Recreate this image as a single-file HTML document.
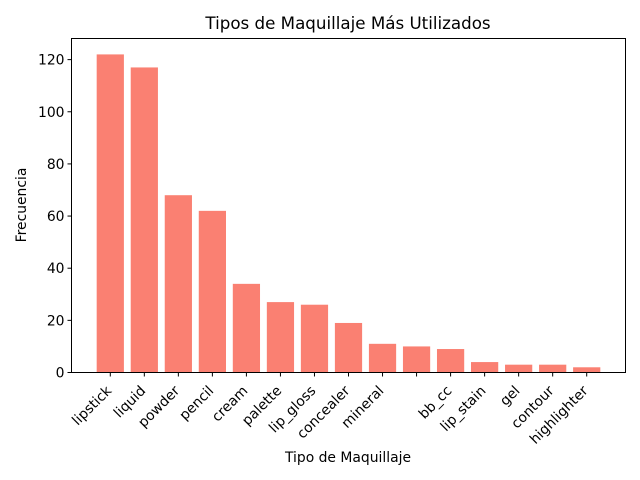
<!DOCTYPE html>
<html><head><meta charset="utf-8"><style>
body{margin:0;background:#fff;}
svg{display:block;font-family:"DejaVu Sans","Liberation Sans",sans-serif;}
</style></head><body>
<svg id="chart" width="640" height="480">
<text x="348" y="29" font-size="16.7" text-anchor="middle">Tipos de Maquillaje Más Utilizados</text>
<text x="348" y="462" font-size="13.9" text-anchor="middle">Tipo de Maquillaje</text>
<text transform="translate(26,205) rotate(-90)" font-size="13.9" text-anchor="middle">Frecuencia</text>
<g id="bars"></g><g id="yaxis"></g><g id="xaxis"></g>
<rect x="71.5" y="38.5" width="554" height="334" fill="none" stroke="#000" stroke-width="1"/>
</svg>
<script>
const categories=["lipstick","liquid","powder","pencil","cream","palette","lip_gloss","concealer","mineral","","bb_cc","lip_stain","gel","contour","highlighter"];
const values=[122,117,68,62,34,27,26,19,11,10,9,4,3,3,2];
const yTicks=[0,20,40,60,80,100,120];
const NS="http://www.w3.org/2000/svg";
const L=71.5,R=625.5,T=38.5,B=372.5;
const xmin=-1.14,xmax=categories.length-1+1.14;
const ymax=Math.max(...values)*1.05;
const xs=i=>L+(i-xmin)/(xmax-xmin)*(R-L);
const ys=v=>B-v/ymax*(B-T);
const bw=0.8*(R-L)/(xmax-xmin);
function mk(t,a,p){const e=document.createElementNS(NS,t);for(const k in a)e.setAttribute(k,a[k]);p.appendChild(e);return e;}
const gb=document.getElementById('bars'),gy=document.getElementById('yaxis'),gx=document.getElementById('xaxis');
values.forEach((v,i)=>{
 const r=mk('rect',{x:xs(i)-bw/2,y:ys(v),width:bw,height:B-ys(v),fill:'#fa8072'},gb);
 
 
 const tk=mk('line',{x1:xs(i),x2:xs(i),y1:B,y2:B+4,stroke:'#000'},gx);
 
 
 const t=mk('text',{x:0,y:0,'font-size':13.9,'text-anchor':'end',transform:`translate(${xs(i)+2},${B+19}) rotate(-45)`},gx);
 t.textContent=categories[i];
 
 
});
yTicks.forEach(v=>{
 const tk=mk('line',{x1:L-4,x2:L,y1:ys(v),y2:ys(v),stroke:'#000'},gy);
 
 
 const t=mk('text',{x:L-7,y:ys(v)+5,'font-size':13.9,'text-anchor':'end'},gy);
 t.textContent=v;
 
 
});
</script>
</body></html>
